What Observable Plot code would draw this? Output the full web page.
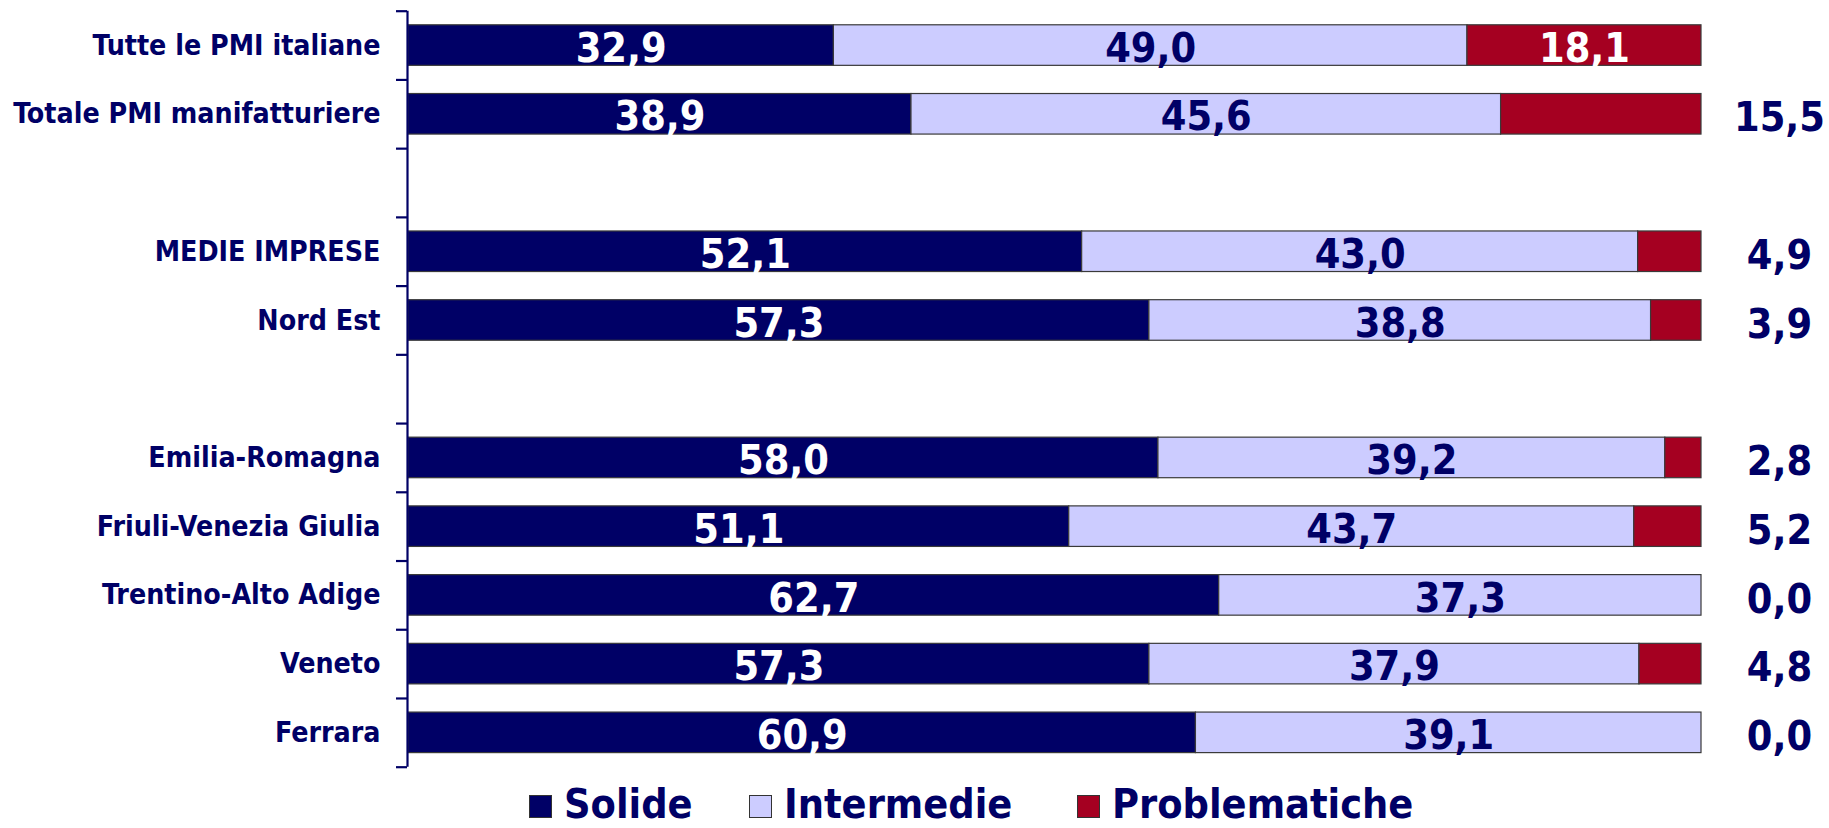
<!DOCTYPE html>
<html>
<head>
<meta charset="utf-8">
<script src="https://cdn.jsdelivr.net/npm/d3@7"></script>
<script src="https://cdn.jsdelivr.net/npm/@observablehq/plot@0.6"></script>
<style>
  html, body { margin: 0; padding: 0; background: #fff; overflow: hidden; }
  #chart { width: 1829px; height: 780px; }
  .legend { position: relative; height: 48px; width: 1829px; font-family: 'DejaVu Sans Condensed', 'DejaVu Sans', sans-serif; font-weight: bold; color: #000066; font-size: 41px; }
  .legend .item { position: absolute; top: 5px; height: 38px; display: flex; align-items: flex-start; }
  .legend .sw { width: 21px; height: 21px; border: 1.5px solid #333; margin-right: 12px; margin-top: 10px; }
  .legend .lbl { line-height: 38px; height: 38px; }
</style>
</head>
<body>
<div id="chart"></div>
<script>
const categories = ["Tutte le PMI italiane", "Totale PMI manifatturiere", "MEDIE IMPRESE", "Nord Est", "Emilia-Romagna", "Friuli-Venezia Giulia", "Trentino-Alto Adige", "Veneto", "Ferrara"];
const solide        = [32.9, 38.9, 52.1, 57.3, 58.0, 51.1, 62.7, 57.3, 60.9];
const intermedie    = [49.0, 45.6, 43.0, 38.8, 39.2, 43.7, 37.3, 37.9, 39.1];
const problematiche = [18.1, 15.5, 4.9, 3.9, 2.8, 5.2, 0.0, 4.8, 0.0];
const series = ["Solide", "Intermedie", "Problematiche"];
const colors = ["#000066", "#CCCCFF", "#A50021"];
// row order with two blank separator rows
const gaps = ["·gap1", "·gap2"];
const yDomain = [categories[0], categories[1], gaps[0], categories[2], categories[3], gaps[1], ...categories.slice(4)];

const navy = "#000066";
const fmt = v => d3.format(".1f")(v).replace(".", ",");
const values = [solide, intermedie, problematiche];

const rows = categories.flatMap((cat, i) =>
  series.map((s, j) => ({cat, series: s, value: values[j][i], total: solide[i] + intermedie[i] + problematiche[i], idx: i}))
);

const width = 1829, height = 780;
const marginTop = 10.7, marginBottom = height - 766.7;
const step = (height - marginTop - marginBottom) / yDomain.length;
const font = "'DejaVu Sans Condensed', 'DejaVu Sans', sans-serif";

const plot = Plot.plot({
  width, height,
  marginLeft: 408, marginRight: 128, marginTop, marginBottom,
  style: {fontFamily: font, fontWeight: "bold", color: navy, background: "white"},
  x: {domain: [0, 100], axis: null},
  y: {domain: yDomain, paddingInner: 0.41, paddingOuter: 0.205, round: false, axis: null, label: null},
  color: {domain: series, range: colors},
  marks: [
    Plot.barX(rows, {x: "value", y: "cat", fill: "series", stroke: "#3a3a3a", strokeWidth: 1.2}),
    Plot.text(rows, Plot.stackX({x: "value", y: "cat", z: "series",
      text: d => (d.series === "Solide" || (d.series === "Problematiche" && d.idx === 0)) ? fmt(d.value) : "",
      fill: "white", fontSize: 41, dy: 3})),
    Plot.text(rows, Plot.stackX({x: "value", y: "cat", z: "series",
      text: d => d.series === "Intermedie" ? fmt(d.value) : "",
      fill: navy, fontSize: 41, dy: 3})),
    Plot.text(rows.filter(d => d.series === "Problematiche" && d.idx !== 0), {
      x: "total", y: "cat", text: d => fmt(d.value), fill: navy, fontSize: 41,
      textAnchor: "middle", dx: 78, dy: 4}),
    Plot.ruleX([0], {stroke: navy, strokeWidth: 2.2, dx: -1}),
    Plot.ruleY(yDomain, {y: d => d, x1: -0.85, x2: 0, stroke: navy, strokeWidth: 2.2, dy: -step / 2, dx: -1}),
    Plot.ruleY(yDomain.slice(-1), {y: d => d, x1: -0.85, x2: 0, stroke: navy, strokeWidth: 2.2, dy: step / 2, dx: -1}),
    Plot.axisY({domain: yDomain, tickSize: 0, tickPadding: 28, fontSize: 28.3, fill: navy,
      tickFormat: d => gaps.includes(d) ? "" : d, label: null})
  ]
});
plot.style.display = "block";
document.getElementById("chart").appendChild(plot);

// legend below the SVG
const legend = document.createElement("div");
legend.className = "legend";
const legendX = [529, 749, 1077];
series.forEach((s, i) => {
  const item = document.createElement("div");
  item.className = "item";
  item.style.left = legendX[i] + "px";
  const sw = document.createElement("span");
  sw.className = "sw";
  sw.style.background = colors[i];
  const lbl = document.createElement("span");
  lbl.className = "lbl";
  lbl.textContent = s;
  item.appendChild(sw);
  item.appendChild(lbl);
  legend.appendChild(item);
});
document.body.appendChild(legend);
</script>
</body>
</html>
